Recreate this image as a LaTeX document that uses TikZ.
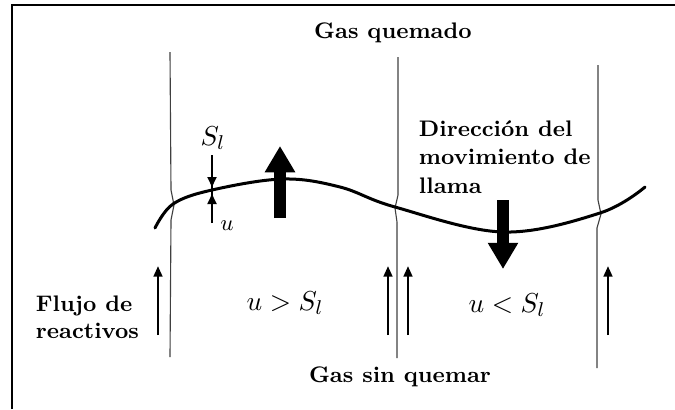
\documentclass[tikz,border=0pt]{standalone}
\usepackage{amsmath}
\usetikzlibrary{arrows.meta}

\begin{document}
\begin{tikzpicture}[x=0.4pt, y=-0.4pt,
  front/.style={draw=black!75, line width=0.45pt},
  flow/.style={line width=1pt, -{Triangle[width=3.4pt, length=4.2pt]}},
  bigarrow/.style={line width=4.8pt, -{Triangle[width=11.5pt, length=10.5pt]}},
  lbl/.style={font=\fontsize{9}{11}\selectfont\bfseries, inner sep=1pt},
  cond/.style={font=\fontsize{11}{13}\selectfont, inner sep=1pt}]
\useasboundingbox (0,0) rectangle (675,409);
% frame
\draw[line width=0.8pt] (12,409) -- (12,5) -- (675,5);
% flame fronts (vertical lines)
\coordinate (f1t) at (170,52);  \coordinate (f1b) at (170,357);
\coordinate (f2t) at (398,57);  \coordinate (f2b) at (397,358);
\coordinate (f3t) at (598,65);  \coordinate (f3b) at (597,368);
\draw[front] (f1t) -- (171,190) -- (174,205) -- (171,220) -- (f1b);
\draw[front] (f2t) -- (398,195) -- (395,208) -- (397,222) -- (f2b);
\draw[front] (f3t) -- (598,200) -- (601,214) -- (597,228) -- (f3b);
% flame surface
\draw[line width=1.2pt, line cap=round] plot[smooth, tension=0.6] coordinates
  {(155,228) (173,204) (212,190) (283,179) (340,187) (395,207) (503,232) (600,213) (645,187)};
% flame thickness marker
\coordinate (sa) at (212,155);  \coordinate (sb) at (212,223);
\coordinate (s1) at (212,187);  \coordinate (s2) at (212,194);
\draw[line width=0.7pt] (sa) -- (sb);
\draw[line width=0.7pt, -{Triangle[width=3.6pt, length=4pt]}] (sa) -- (s1);
\draw[line width=0.7pt, -{Triangle[width=3.6pt, length=4pt]}] (sb) -- (s2);
\node[cond] (sl) at (213,138) {$S_l$};
\node[cond, font=\fontsize{9}{11}\selectfont] (ul) at (227,226) {$u$};
% big arrows
\coordinate (up0) at (280,218);  \coordinate (up1) at (280,146);
\coordinate (dn0) at (503,200);  \coordinate (dn1) at (503,269);
\draw[bigarrow] (up0) -- (up1);
\draw[bigarrow] (dn0) -- (dn1);
% reactant flow arrows
\foreach \x in {158,388,408,608}
  \draw[flow] (\x,335) -- (\x,266);
% labels
\node[lbl] (burnt) at (393,33) {Gas quemado};
\node[lbl] (unburnt) at (400,377) {Gas sin quemar};
\node[lbl, anchor=west, align=left] (feed) at (33,317) {Flujo de\\reactivos};
\node[lbl, anchor=west, align=left, font=\fontsize{9}{11.3}\selectfont\bfseries]
  (dir) at (416,157) {Direcci\'on del\\movimiento de\\llama};
\node[cond] (fast) at (285,303) {$u > S_l$};
\node[cond] (slow) at (507,305) {$u < S_l$};
\end{tikzpicture}
\end{document}
